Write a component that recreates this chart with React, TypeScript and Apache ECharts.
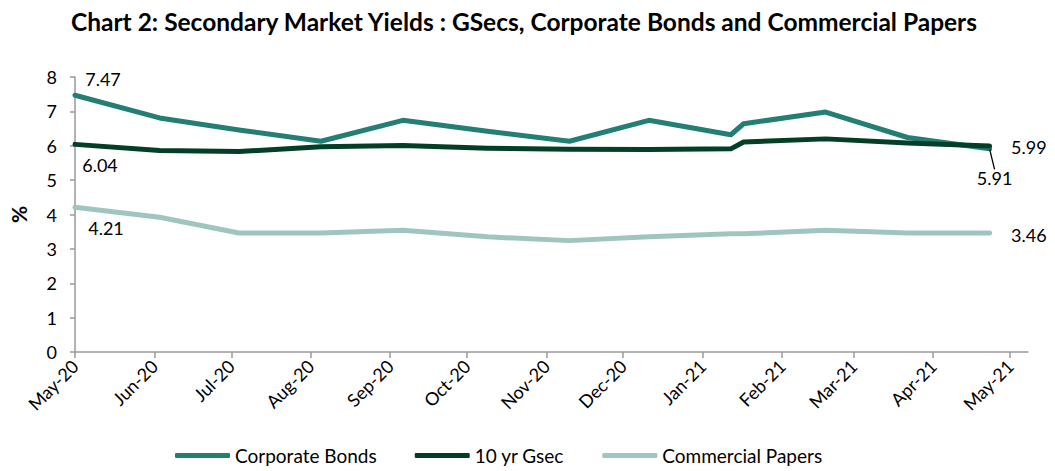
import React, { useEffect, useRef } from "react";
import * as echarts from "echarts";

const TITLE = "Chart 2: Secondary Market Yields : GSecs, Corporate Bonds and Commercial Papers";
const dates = [
  "2020-05-01", "2020-06-03", "2020-07-04", "2020-08-05", "2020-09-06", "2020-10-09",
  "2020-11-10", "2020-12-11", "2021-01-12", "2021-01-17", "2021-02-18", "2021-03-22", "2021-04-23",
];
const corporateBonds = [7.47, 6.81, 6.46, 6.13, 6.74, 6.42, 6.13, 6.74, 6.32, 6.64, 6.98, 6.24, 5.91];
const gsec10 = [6.04, 5.86, 5.83, 5.97, 6.01, 5.93, 5.9, 5.89, 5.91, 6.11, 6.2, 6.08, 5.99];
const commercialPapers = [4.21, 3.92, 3.46, 3.46, 3.54, 3.35, 3.24, 3.35, 3.44, 3.44, 3.54, 3.46, 3.46];
const tickMonths = [
  "2020-05-01", "2020-06-01", "2020-07-01", "2020-08-01", "2020-09-01", "2020-10-01", "2020-11-01",
  "2020-12-01", "2021-01-01", "2021-02-01", "2021-03-01", "2021-04-01", "2021-05-01",
];
const xMin = "2020-05-01";
const xMax = "2021-05-08";
const monthNames = ["Jan", "Feb", "Mar", "Apr", "May", "Jun", "Jul", "Aug", "Sep", "Oct", "Nov", "Dec"];

const ts = (s: string) => {
  const [y, m, d] = s.split("-").map(Number);
  return Date.UTC(y, m - 1, d);
};

const FONT = "Lato";
const C_CORP = "#237F73";
const C_GSEC = "#033F27";
const C_CP = "#9FC6BE";

function buildData(vals: number[], labels: Record<number, any>, lines: Record<number, boolean> = {}) {
  return vals.map((v, i) => {
    const item: any = { value: [ts(dates[i]), v] };
    if (labels[i]) {
      item.label = {
        show: true,
        formatter: v.toFixed(2),
        color: "#000",
        fontSize: 18,
        fontFamily: FONT,
        ...labels[i],
      };
      item.labelLine = lines[i]
        ? { show: true, length2: 0, lineStyle: { color: "#000", width: 1.3 } }
        : { show: false };
    }
    return item;
  });
}

export default function App() {
  const ref = useRef<HTMLDivElement>(null);
  useEffect(() => {
    if (!ref.current) return;
    const chart = echarts.init(ref.current, null, { renderer: "svg" });
    const last = dates.length - 1;
    const baseSeries = (name: string, color: string, data: any[]) => ({
      name,
      type: "line",
      data,
      showSymbol: true,
      symbol: "circle",
      symbolSize: 1,
      itemStyle: { color },
      lineStyle: { color, width: 5, cap: "round", join: "round" },
      emphasis: { disabled: true },
    });
    const corp: any = baseSeries(
      "Corporate Bonds",
      C_CORP,
      buildData(
        corporateBonds,
        {
          0: { position: "top", distance: 4 },
          [last]: { position: "bottom", distance: 4 },
        },
        { [last]: true }
      )
    );
    corp.labelLayout = (p: any) =>
      p.dataIndex === last ? { dx: 5, dy: 16 } : p.dataIndex === 0 ? { dx: 28, dy: -3 } : {};
    const gs: any = baseSeries(
      "10 yr Gsec",
      C_GSEC,
      buildData(gsec10, {
        0: { position: "bottom", offset: [25, 6] },
        [last]: { position: "right", offset: [16, 1] },
      })
    );
    const cp: any = baseSeries(
      "Commercial Papers",
      C_CP,
      buildData(commercialPapers, {
        0: { position: "bottom", offset: [31, 6] },
        [last]: { position: "right", offset: [16, 2] },
      })
    );
    const tickVals = tickMonths.map(ts);
    chart.setOption({
      animation: false,
      backgroundColor: "#fff",
      title: {
        text: TITLE,
        left: 66,
        top: 4,
        textStyle: { fontFamily: FONT, fontSize: 24.5, fontWeight: "bold", color: "#000" },
      },
      legend: {
        bottom: 1,
        left: 170,
        icon: "roundRect",
        itemWidth: 55,
        itemHeight: 5,
        itemGap: 38,
        textStyle: { fontFamily: FONT, fontSize: 19, color: "#000" },
        data: ["Corporate Bonds", "10 yr Gsec", "Commercial Papers"],
      },
      grid: { left: 74, right: 27, top: 77, height: 275, containLabel: false },
      xAxis: {
        type: "value",
        min: ts(xMin),
        max: ts(xMax),
        axisLine: { show: true, lineStyle: { color: "#9A9A9A", width: 1.5 } },
        axisTick: { show: true, customValues: tickVals, length: 6, lineStyle: { color: "#9A9A9A", width: 1.5 } },
        axisLabel: {
          customValues: tickVals,
          rotate: 45,
          margin: 11,
          fontFamily: FONT,
          fontSize: 18,
          color: "#000",
          formatter: (v: number) => {
            const d = new Date(v);
            return `${monthNames[d.getUTCMonth()]}-${String(d.getUTCFullYear()).slice(2)}`;
          },
        },
        splitLine: { show: false },
      },
      yAxis: {
        type: "value",
        min: 0,
        max: 8,
        interval: 1,
        name: "%",
        nameLocation: "middle",
        nameGap: 46,
        nameRotate: 90,
        nameTextStyle: { fontFamily: FONT, fontSize: 21, fontWeight: "bold", color: "#000" },
        axisLine: { show: true, lineStyle: { color: "#9A9A9A", width: 1.5 } },
        axisTick: { show: true, length: 5, lineStyle: { color: "#9A9A9A", width: 1.5 } },
        axisLabel: { fontFamily: FONT, fontSize: 18, color: "#000", margin: 18 },
        splitLine: { show: false },
      },
      series: [corp, gs, cp],
    });
    return () => chart.dispose();
  }, []);
  return (
    <div
      ref={ref}
      style={{ position: "absolute", left: 0, top: 0, width: 1055, height: 471, background: "#fff" }}
    />
  );
}
